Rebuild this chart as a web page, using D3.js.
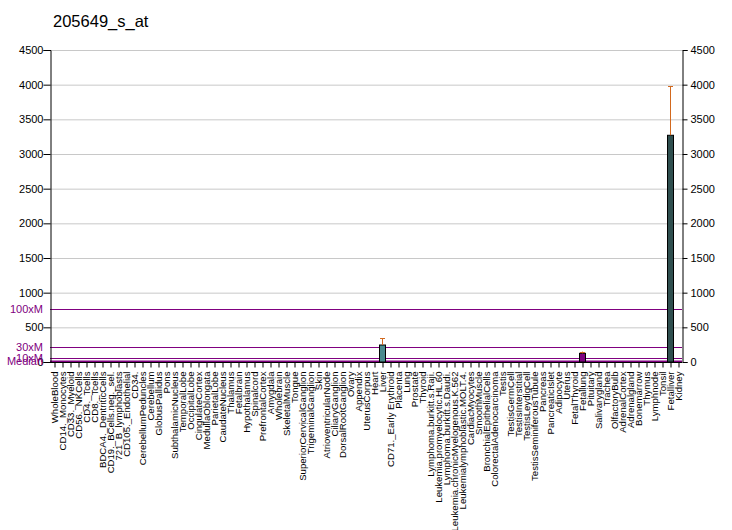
<!DOCTYPE html>
<html><head><meta charset="utf-8">
<script src="https://cdn.jsdelivr.net/npm/d3@7"></script>
<style>
body{margin:0;background:#fff;}
svg{display:block;font-family:Arial,"Liberation Sans",sans-serif;}
</style></head>
<body><svg id="c" width="732" height="530"></svg>
<script>
const title = "205649_s_at";
const categories = ["WholeBlood","CD14._Monocytes","CD33._Myeloid","CD56._NKCells","CD4._Tcells","CD8._Tcells","BDCA4._DentriticCells","CD19._BCells.neg._sel.","721_B_lymphoblasts","CD105._Endothelial","CD34.","CerebellumPeduncles","Cerebellum","GlobusPallidus","Pons","SubthalamicNucleus","TemporalLobe","OccipitalLobe","CingulateCortex","MedullaOblongata","ParietalLobe","CaudateNucleus","Thalamus","Fetalbrain","Hypothalamus","Spinalcord","PrefrontalCortex","Amygdala","Wholebrain","SkeletalMuscle","Tongue","SuperiorCervicalGanglion","TrigeminalGanglion","Skin","AtrioventricularNode","CiliaryGanglion","DorsalRootGanglion","Ovary","Appendix","UterusCorpus","Heart","Liver","CD71._Early Erythroid","Placenta","Lung","Prostate","Thyroid","Lymphoma.burkitt.s.Raji.","Leukemia.promyelocytic.HL.60","Lymphoma.burkitt.s.Daudi.","Leukemia.chronicMyelogenous.K.562","Leukemialymphoblastic.MOLT.4.","CardiacMyocytes","SmoothMuscle","BronchialEpithelialCells","ColorectalAdenocarcinoma","Testis","TestisGermCell","TestisInterstitial","TestisLeydigCell","TestisSeminiferousTubule","Pancreas","PancreaticIslet","Adipocyte","Uterus","FetalThyroid","Fetallung","Pituitary","Salivarygland","Trachea","OlfactoryBulb","AdrenalCortex","Adrenalgland","Bonemarrow","Thymus","Lymphnode","Tonsil","Fetalliver","Kidney"];
const values = [8,8,8,8,8,8,8,8,8,8,8,8,8,8,8,8,8,8,8,8,8,8,8,8,8,8,8,8,8,8,8,8,8,8,8,8,8,8,8,8,8,245,8,8,8,8,8,8,8,8,8,8,8,8,8,8,8,8,8,8,8,8,8,8,8,8,125,8,8,8,8,8,8,8,8,8,8,3270,8];
const errorTops = [0,0,0,0,0,0,0,0,0,0,0,0,0,0,0,0,0,0,0,0,0,0,0,0,0,0,0,0,0,0,0,0,0,0,0,0,0,0,0,0,0,345,0,0,0,0,0,0,0,0,0,0,0,0,0,0,0,0,0,0,0,0,0,0,0,0,150,0,0,0,0,0,0,0,0,0,0,3975,0];
const yTicks = [0,500,1000,1500,2000,2500,3000,3500,4000,4500];
const refLabels = ["100xM","30xM","10xM","Median"];
const refValues = [760,214,58,10];

const svg = d3.select("#c");
const L = 50, R = 682, T = 50, B = 362;
const x = d3.scaleBand().domain(categories).range([L, R]).paddingInner(0.125).paddingOuter(0.0625);
const xc = d => L + (categories.indexOf(d) + 0.5) * (R - L) / categories.length;
const y = d3.scaleLinear().domain([0, 4500]).range([B, T]);

svg.append("text").attr("x", 53).attr("y", 27).attr("font-size", 16.5).attr("fill", "#000").text(title);

// grid
svg.append("g").selectAll("line").data(yTicks.filter(v => v > 0)).join("line")
  .attr("x1", L).attr("x2", R).attr("y1", d => y(d) + 0.5).attr("y2", d => y(d) + 0.5)
  .attr("stroke", "#c8c8c8").attr("stroke-width", 1);

// reference lines
const purple = "#800080";
svg.append("g").selectAll("line").data(refValues).join("line")
  .attr("x1", L).attr("x2", R).attr("y1", d => Math.round(y(d)) + 0.5).attr("y2", d => Math.round(y(d)) + 0.5)
  .attr("stroke", purple).attr("stroke-width", (d, i) => i === 3 ? 2 : 1);

// bars
const colorFor = (d, i) => d === "Liver" ? "#4a8b8e" : d === "Fetalliver" ? "#2f4f4f" : purple;
svg.append("g").selectAll("rect").data(categories).join("rect")
  .attr("x", d => Math.round(x(d)) + 0.5)
  .attr("y", (d, i) => y(values[i]))
  .attr("width", 6)
  .attr("height", (d, i) => B - y(values[i]))
  .attr("fill", colorFor)
  .attr("stroke", (d, i) => values[i] > 50 ? "#000" : "none")
  .attr("stroke-width", 1);

// error bars
const errColor = "#d2691e";
const eg = svg.append("g");
categories.forEach((d, i) => {
  if (!errorTops[i]) return;
  const cx = Math.round(xc(d)) + 0.5;
  eg.append("line").attr("x1", cx).attr("x2", cx).attr("y1", y(values[i])).attr("y2", y(errorTops[i])).attr("stroke", errColor);
  eg.append("line").attr("x1", cx - 2.5).attr("x2", cx + 2.5).attr("y1", Math.round(y(errorTops[i])) + 0.5).attr("y2", Math.round(y(errorTops[i])) + 0.5).attr("stroke", errColor);
});

// axes
const left = d3.axisLeft(y).tickValues(yTicks).tickSize(7).tickFormat(d3.format("d"));
const right = d3.axisRight(y).tickValues(yTicks).tickSize(5).tickFormat(d3.format("d"));
const gl = svg.append("g").attr("transform", `translate(${L + 0.5},0)`).call(left);
const gr = svg.append("g").attr("transform", `translate(${R + 0.5},0)`).call(right);
[gl, gr].forEach(g => {
  g.selectAll("text").attr("font-size", 11).attr("font-family", "Arial,'Liberation Sans',sans-serif").attr("fill", "#000");
  g.selectAll("line,path").attr("stroke", "#000");
});
gl.selectAll("text").attr("x", -7);
gr.selectAll("text").attr("x", 8);

// reference labels
svg.append("g").selectAll("text").data(refLabels).join("text")
  .attr("x", 43).attr("y", (d, i) => y(refValues[i]) + 4)
  .attr("text-anchor", "end").attr("font-size", 11).attr("fill", purple).text(d => d);

// x axis
const bottom = d3.axisBottom(d3.scalePoint().domain(categories).range([L + 4, R - 4])).tickSize(5).tickSizeOuter(0);
const gb = svg.append("g").attr("transform", `translate(0,${B + 0.5})`).call(bottom);
gb.select("path").attr("stroke", "#000").attr("d", `M${L},0H${R}`);
gb.selectAll("line").attr("stroke", "#000").attr("transform", "translate(0.5,0)");
gb.selectAll("text").attr("font-size", 9.6).attr("font-family", "Arial,'Liberation Sans',sans-serif").attr("fill", "#000")
  .attr("text-anchor", "end").attr("dy", null).attr("y", 0).attr("x", 0)
  .attr("transform", "translate(3.5,9) rotate(-90)");
</script></body></html>
